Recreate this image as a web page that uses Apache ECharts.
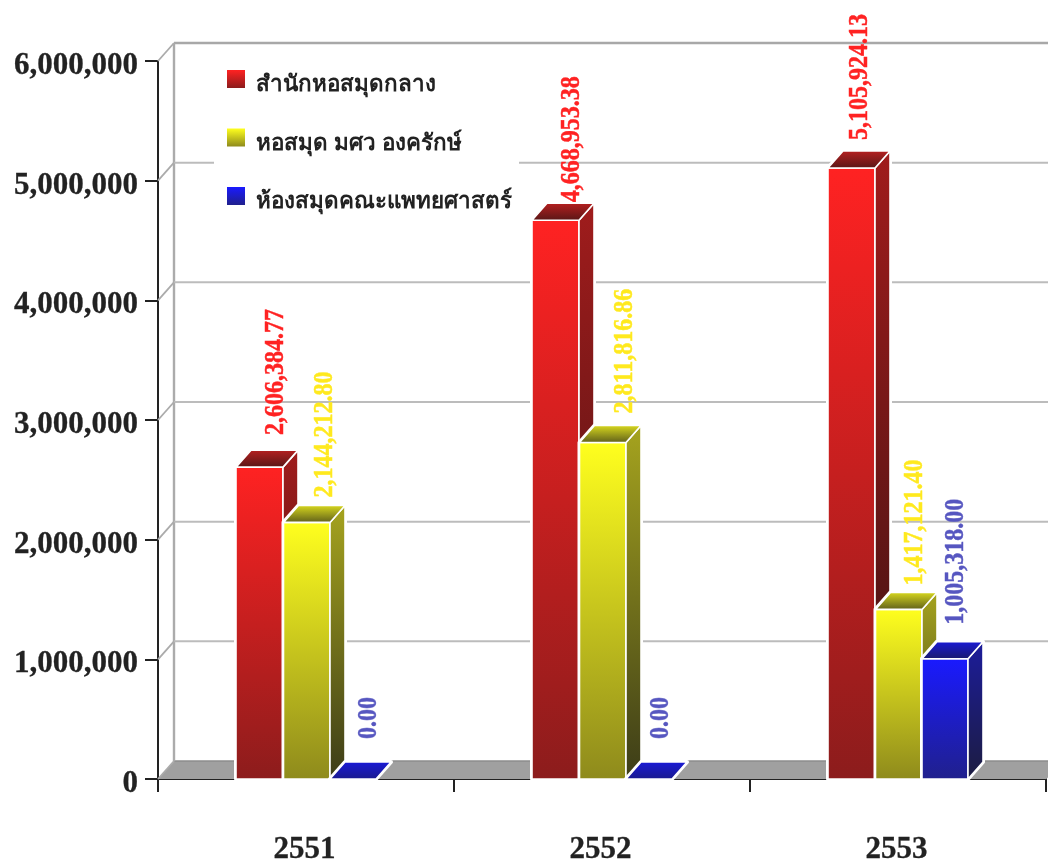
<!DOCTYPE html>
<html>
<head>
<meta charset="utf-8">
<style>html,body{margin:0;padding:0;background:#fff}#c{width:1048px;height:860px}</style>
<script src="https://cdn.jsdelivr.net/npm/echarts@6/dist/echarts.min.js"></script>
</head>
<body>
<div id="c"></div>
<script>
const categories = ['2551', '2552', '2553'];
const seriesNames = ['สำนักหอสมุดกลาง', 'หอสมุด มศว องครักษ์', 'ห้องสมุดคณะแพทยศาสตร์'];
const centralLibrary = [2606384.77, 4668953.38, 5105924.13];
const ongkharakLibrary = [2144212.80, 2811816.86, 1417121.40];
const medicineLibrary = [0.00, 0.00, 1005318.00];
const axisTicks = [0, 1000000, 2000000, 3000000, 4000000, 5000000, 6000000];

// styling only
const DX = 16, DY = -18, BDX = 15, BDY = -17;
const barStart = [-70, -22.5, 24], barWidth = [47, 46.5, 46];
const palette = [
  {front:['#ff2222','#8c1c1c'], side:['#a01c1c','#3c1212'], top:['#b82020','#561616'], label:'#ff2222'},
  {front:['#ffff1e','#8e8a1c'], side:['#a6a41e','#3c3c18'], top:['#dcdc1e','#5c5c1a'], label:'#ffe91e'},
  {front:['#1a1aff','#20208c'], side:['#1c1c9c','#1c1c40'], top:['#1a1ad8','#1a1a6c'], label:'#5656c0'}
];
const labelDx = [[40,40,32],[41,45,39],[39,35,34]];
const labelGap = [[32,18,28],[25,29,24],[40,40,34]];
const serif = '"Liberation Serif", serif';

function grad(c){return new echarts.graphic.LinearGradient(0,0,0,1,[{offset:0,color:c[0]},{offset:1,color:c[1]}]);}
const fmt = v => v.toLocaleString('en-US',{minimumFractionDigits:2,maximumFractionDigits:2});

function barSeries(si, values){
  const p = palette[si];
  return {
    name: seriesNames[si], type:'custom', z:5,
    itemStyle:{color:grad(p.front)},
    data: values.map((v,i)=>[i,v]),
    encode:{x:0,y:1},
    renderItem(params, api){
      const c = api.coord([api.value(0), api.value(1)]);
      const base = api.coord([api.value(0), 0])[1];
      const x0 = c[0]+barStart[si], x1 = x0+barWidth[si], t = c[1];
      const poly = (pts, fill, lw) => ({type:'polygon', shape:{points:pts}, style:{fill, stroke:'#fff', lineWidth:lw===undefined?1.6:lw, lineJoin:'round'}});
      const kids = [];
      const silhouette = [[x0,base],[x0,t],[x0+BDX,t+BDY],[x1+BDX,t+BDY],[x1+BDX,base+BDY],[x1,base]];
      kids.push(poly(silhouette,'#fff',4));
      const h = base - t;
      if (h > 0.5) {
        kids.push(poly([[x0,base],[x0,t],[x1,t],[x1,base]], grad(p.front)));
        kids.push(poly([[x1,t],[x1+BDX,t+BDY],[x1+BDX,base+BDY],[x1,base]], grad(p.side)));
      }
      kids.push(poly([[x0,t],[x0+BDX,t+BDY],[x1+BDX,t+BDY],[x1,t]], h>0.5?grad(p.top):grad(['#1a1ad8','#1a1a8c'])));
      return {type:'group', children:kids};
    }
  };
}

const wallSeries = {
  type:'custom', silent:true, z:1, legendHoverLink:false, name:'wall',
  data: axisTicks.map(v=>[0,v]), encode:{x:0,y:1}, clip:false,
  renderItem(params, api){
    const v = api.value(1), cs = params.coordSys;
    const y = api.coord([0,v])[1], l = cs.x;
    const kids = [];
    const isTop = v===axisTicks[axisTicks.length-1];
    const stroke = isTop ? '#a8a8a8' : '#bcbcbc';
    const lw = isTop ? 2.4 : 2;
    if (v===0) {
      kids.push({type:'polygon',shape:{points:[[l,y],[l+DX,y+DY],[1070,y+DY],[1046,y]]},style:{fill:'#a0a0a0',stroke:'none'}});
      kids.push({type:'line',shape:{x1:l+DX,y1:y+DY,x2:1048,y2:y+DY},style:{stroke:'#8c8c8c',lineWidth:1.5}});
      const top = api.coord([0,axisTicks[axisTicks.length-1]])[1];
      kids.push({type:'line',shape:{x1:l+DX,y1:y+DY,x2:l+DX,y2:top+DY},style:{stroke:'#ababab',lineWidth:2.4}});
    } else {
      kids.push({type:'line',shape:{x1:l+DX,y1:y+DY,x2:1048,y2:y+DY},style:{stroke,lineWidth:lw}});
    }
    kids.push({type:'line',shape:{x1:l,y1:y,x2:l+DX,y2:y+DY},style:{stroke:'#ababab',lineWidth:1.8}});
    return {type:'group',children:kids};
  }
};

function labelSeries(si, values){
  const p = palette[si];
  return {
    type:'custom', silent:true, z:8, name:'lbl'+si, clip:false,
    data: values.map((v,i)=>[i,v]), encode:{x:0,y:1},
    renderItem(params, api){
      const i = api.value(0), v = api.value(1);
      const c = api.coord([i,v]);
      return {type:'text', x:c[0]+barStart[si]+labelDx[si][i], y:c[1]-labelGap[si][i], rotation:Math.PI/2, scaleY:1.15,
        style:{text:fmt(v), fill:p.label, font:'bold 24px '+serif, align:'left', verticalAlign:'middle', stroke:p.label, lineWidth:0.4}};
    }
  };
}

const chart = echarts.init(document.getElementById('c'));
chart.setOption({
  animation:false,
  backgroundColor:'#fff',
  grid:{left:158, width:888, top:61, height:718, containLabel:false, outerBoundsMode:'none'},
  legend:{
    data:seriesNames, orient:'vertical', left:214, top:58, icon:'rect',
    itemWidth:18, itemHeight:18, itemGap:32.5,
    padding:[12,7,16,13], backgroundColor:'#fff', z:6, selectedMode:false,
    formatter:'{a|{name}}',
    textStyle:{rich:{a:{fontFamily:'"Noto Sans", "DejaVu Sans", sans-serif', fontWeight:'bold', fontSize:22.4, color:'#222', padding:[12,0,0,6]}}}
  },
  xAxis:{
    type:'category', data:categories, boundaryGap:true,
    axisLine:{show:true,lineStyle:{color:'#222',width:2}},
    axisTick:{show:true,length:13,alignWithLabel:false,lineStyle:{color:'#222',width:2}},
    axisLabel:{margin:55,color:'#222',fontFamily:serif,fontWeight:'bold',fontSize:31,interval:0,padding:[0,3,0,0],textBorderColor:'#222',textBorderWidth:0.3},
    splitLine:{show:false}
  },
  yAxis:{
    type:'value', min:0, max:6000000, interval:1000000,
    axisLine:{show:true,lineStyle:{color:'#222',width:2}},
    axisTick:{show:true,length:13,lineStyle:{color:'#222',width:2}},
    axisLabel:{margin:20,color:'#222',fontFamily:serif,fontWeight:'bold',fontSize:31,verticalAlign:'top',lineHeight:10,textBorderColor:'#222',textBorderWidth:0.3,
      formatter:v=>v.toLocaleString('en-US')},
    splitLine:{show:false}
  },
  series:[wallSeries,
    barSeries(0,centralLibrary), barSeries(1,ongkharakLibrary), barSeries(2,medicineLibrary),
    labelSeries(0,centralLibrary), labelSeries(1,ongkharakLibrary), labelSeries(2,medicineLibrary)]
});
</script>
</body>
</html>
